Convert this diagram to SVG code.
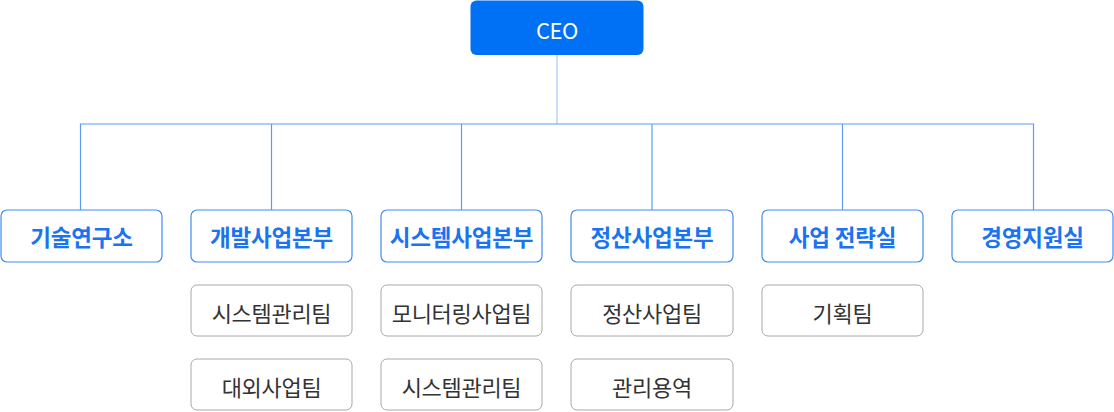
<svg xmlns="http://www.w3.org/2000/svg" width="1114" height="412" viewBox="0 0 1114 412">
<style>
text{font-family:"Noto Sans CJK KR","Noto Sans",sans-serif;text-anchor:middle;dominant-baseline:central}
.ceo rect{fill:#0070f5}
.ceo text{fill:#ffffff;font-size:22px;letter-spacing:-0.5px}
.dept rect{fill:#ffffff;stroke:#3f8ef2;stroke-width:1.2}
.dept text{fill:#1a73f0;font-weight:bold;font-size:22.5px;letter-spacing:-0.2px}
.team rect{fill:#ffffff;stroke:#a8a8a8;stroke-width:1}
.team text{fill:#333333;font-size:22px;letter-spacing:-0.3px}
.conn{stroke:#5c9df2;stroke-width:1.2;fill:none}
.conn .top{stroke:#a9cbf7}
</style>
<g id="connectors" class="conn">
<line class="top" x1="557" y1="55" x2="557" y2="124"/>
<polyline points="80.5,210 80.5,124 1033.5,124 1033.5,210"/>
<line x1="271.5" y1="124" x2="271.5" y2="210"/>
<line x1="461.5" y1="124" x2="461.5" y2="210"/>
<line x1="652" y1="124" x2="652" y2="210"/>
<line x1="842.5" y1="124" x2="842.5" y2="210"/>
</g>
<g id="ceo" class="ceo"><rect x="470.5" y="0.5" width="173" height="54.5" rx="6"/><text x="557" y="28.5">CEO</text></g>
<g id="dept1" class="dept"><rect x="1" y="210" width="161" height="52" rx="6"/><text x="81.5" y="236">기술연구소</text></g>
<g id="dept2" class="dept"><rect x="191" y="210" width="161" height="52" rx="6"/><text x="271.5" y="236">개발사업본부</text></g>
<g id="dept3" class="dept"><rect x="381" y="210" width="161" height="52" rx="6"/><text x="461.5" y="236">시스템사업본부</text></g>
<g id="dept4" class="dept"><rect x="571" y="210" width="162" height="52" rx="6"/><text x="652" y="236">정산사업본부</text></g>
<g id="dept5" class="dept"><rect x="762" y="210" width="161" height="52" rx="6"/><text x="842.5" y="236">사업 전략실</text></g>
<g id="dept6" class="dept"><rect x="952" y="210" width="161" height="52" rx="6"/><text x="1032.5" y="236">경영지원실</text></g>
<g id="team2a" class="team"><rect x="191" y="285" width="161" height="51" rx="6"/><text x="271.5" y="311.5">시스템관리팀</text></g>
<g id="team2b" class="team"><rect x="191" y="359" width="161" height="51" rx="6"/><text x="271.5" y="385.5">대외사업팀</text></g>
<g id="team3a" class="team"><rect x="381" y="285" width="161" height="51" rx="6"/><text x="461.5" y="311.5">모니터링사업팀</text></g>
<g id="team3b" class="team"><rect x="381" y="359" width="161" height="51" rx="6"/><text x="461.5" y="385.5">시스템관리팀</text></g>
<g id="team4a" class="team"><rect x="571" y="285" width="162" height="51" rx="6"/><text x="652" y="311.5">정산사업팀</text></g>
<g id="team4b" class="team"><rect x="571" y="359" width="162" height="51" rx="6"/><text x="652" y="385.5">관리용역</text></g>
<g id="team5a" class="team"><rect x="762" y="285" width="161" height="51" rx="6"/><text x="842.5" y="311.5">기획팀</text></g>
</svg>
